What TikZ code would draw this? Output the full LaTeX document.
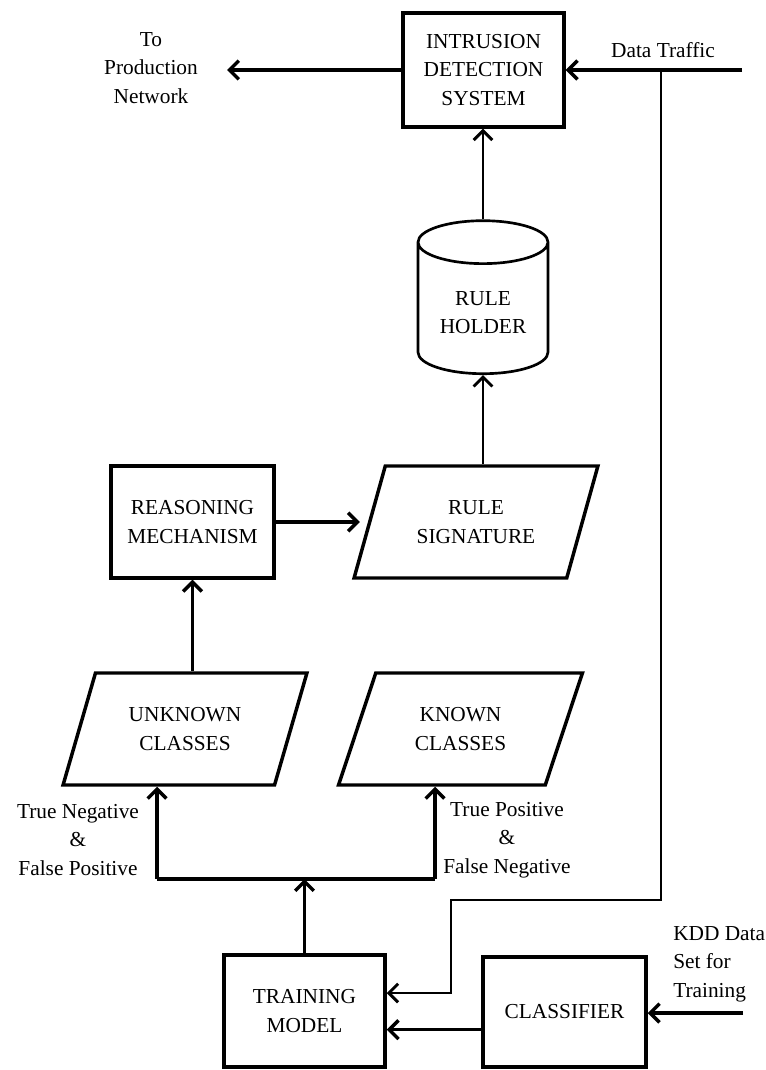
\documentclass[tikz,border=0pt]{standalone}
\usepackage{fontspec}
\setmainfont{Liberation Serif}
\usetikzlibrary{shapes.geometric}
\usetikzlibrary{arrows.meta}
\newdimen\px
\px=0.75pt
\tikzset{caixa/.style={draw,rectangle,line width=2.6pt,minimum width=#1,minimum height=112\px,align=center},caixa/.default=161\px}
\tikzset{dados/.style={draw,trapezium,trapezium left angle=67,trapezium right angle=113,trapezium stretches=true,line width=2.6pt,minimum width=244\px,minimum height=112\px,align=center}}
\tikzset{seta/.style={line width=#1,-{Straight Barb[length=7pt,width=14pt]}},seta/.default=2.6pt}
\tikzset{rotulo/.style={align=center,inner sep=0pt}}

\begin{document}
\begin{tikzpicture}[x=0.75pt,y=-0.75pt,font=\fontsize{16}{21.4}\selectfont]
	\useasboundingbox (0,0) rectangle (765,1070);

	% Topo
	\node[caixa, minimum height=114\px] (ids) at (483.5,70) {INTRUSION\\DETECTION\\SYSTEM};
	\node[rotulo] (producao) at (151,68) {To\\Production\\Network};
	\node[rotulo] (trafego) at (663,50) {Data Traffic};
	\coordinate (saida) at (227,70);
	\coordinate (entrada) at (742,70);
	\coordinate (juncao) at (661,70);
	\draw[seta] (ids.west) -- (saida);
	\draw[seta] (entrada) -- (ids.east);

	% Regras
	\node[draw, cylinder, shape border rotate=90, aspect=0.45, line width=2pt,
		minimum width=130\px, minimum height=153\px, align=center] (regras) at (483,312.5) {RULE\\HOLDER};
	\node[dados] (sig) at (476,522) {RULE\\SIGNATURE};
	\node[caixa, minimum width=163\px] (raciocinio) at (192.5,522) {REASONING\\MECHANISM};
	\draw[seta=2.2pt] (regras.north) -- (regras.north |- ids.south);
	\draw[seta=2.2pt] (regras.south |- sig.north) -- (regras.south);
	\draw[seta, shorten >=6pt] (raciocinio.east) -- (raciocinio.east -| sig.west);

	% Classes
	\node[dados] (desconhecidas) at (185,729) {UNKNOWN\\CLASSES};
	\node[dados] (conhecidas) at (460.5,729) {KNOWN\\CLASSES};
	\draw[seta] (raciocinio.south |- desconhecidas.north) -- (raciocinio.south);
	\node[rotulo] (negativos) at (78,840) {True Negative\\\&\\False Positive};
	\node[rotulo] (positivos) at (507,840) {True Positive\\\&\\False Negative};

	% Base
	\node[caixa] (treino) at (304.5,1011) {TRAINING\\MODEL};
	\node[caixa, minimum width=163\px, minimum height=110\px] (classificador) at (564.5,1012) {CLASSIFIER};
	\node[rotulo, align=left, anchor=west] (kddtexto) at (673,964) {KDD Data\\Set for\\Training};
	\coordinate (ramoE) at (157,879);
	\coordinate (ramoD) at (435,879);
	\coordinate (desvio) at (451,900);
	\coordinate (kdd) at (743,1013);
	\coordinate (treinoA) at ([yshift=13.5pt]treino.east);
	\coordinate (treinoB) at ([yshift=-14pt]treino.east);
	\draw[seta] (treino.north) -- (treino.north |- ramoE);
	\draw[line width=2.6pt] (ramoE) -- (ramoD);
	\draw[seta] (ramoE) -- (ramoE |- desconhecidas.south);
	\draw[seta] (ramoD) -- (ramoD |- conhecidas.south);
	\draw[seta=2.2pt] (juncao) |- (desvio) -- (desvio |- treinoA) -- (treinoA);
	\draw[seta] (classificador.west |- treinoB) -- (treinoB);
	\draw[seta] (kdd) -- (kdd -| classificador.east);

\end{tikzpicture}
\end{document}
